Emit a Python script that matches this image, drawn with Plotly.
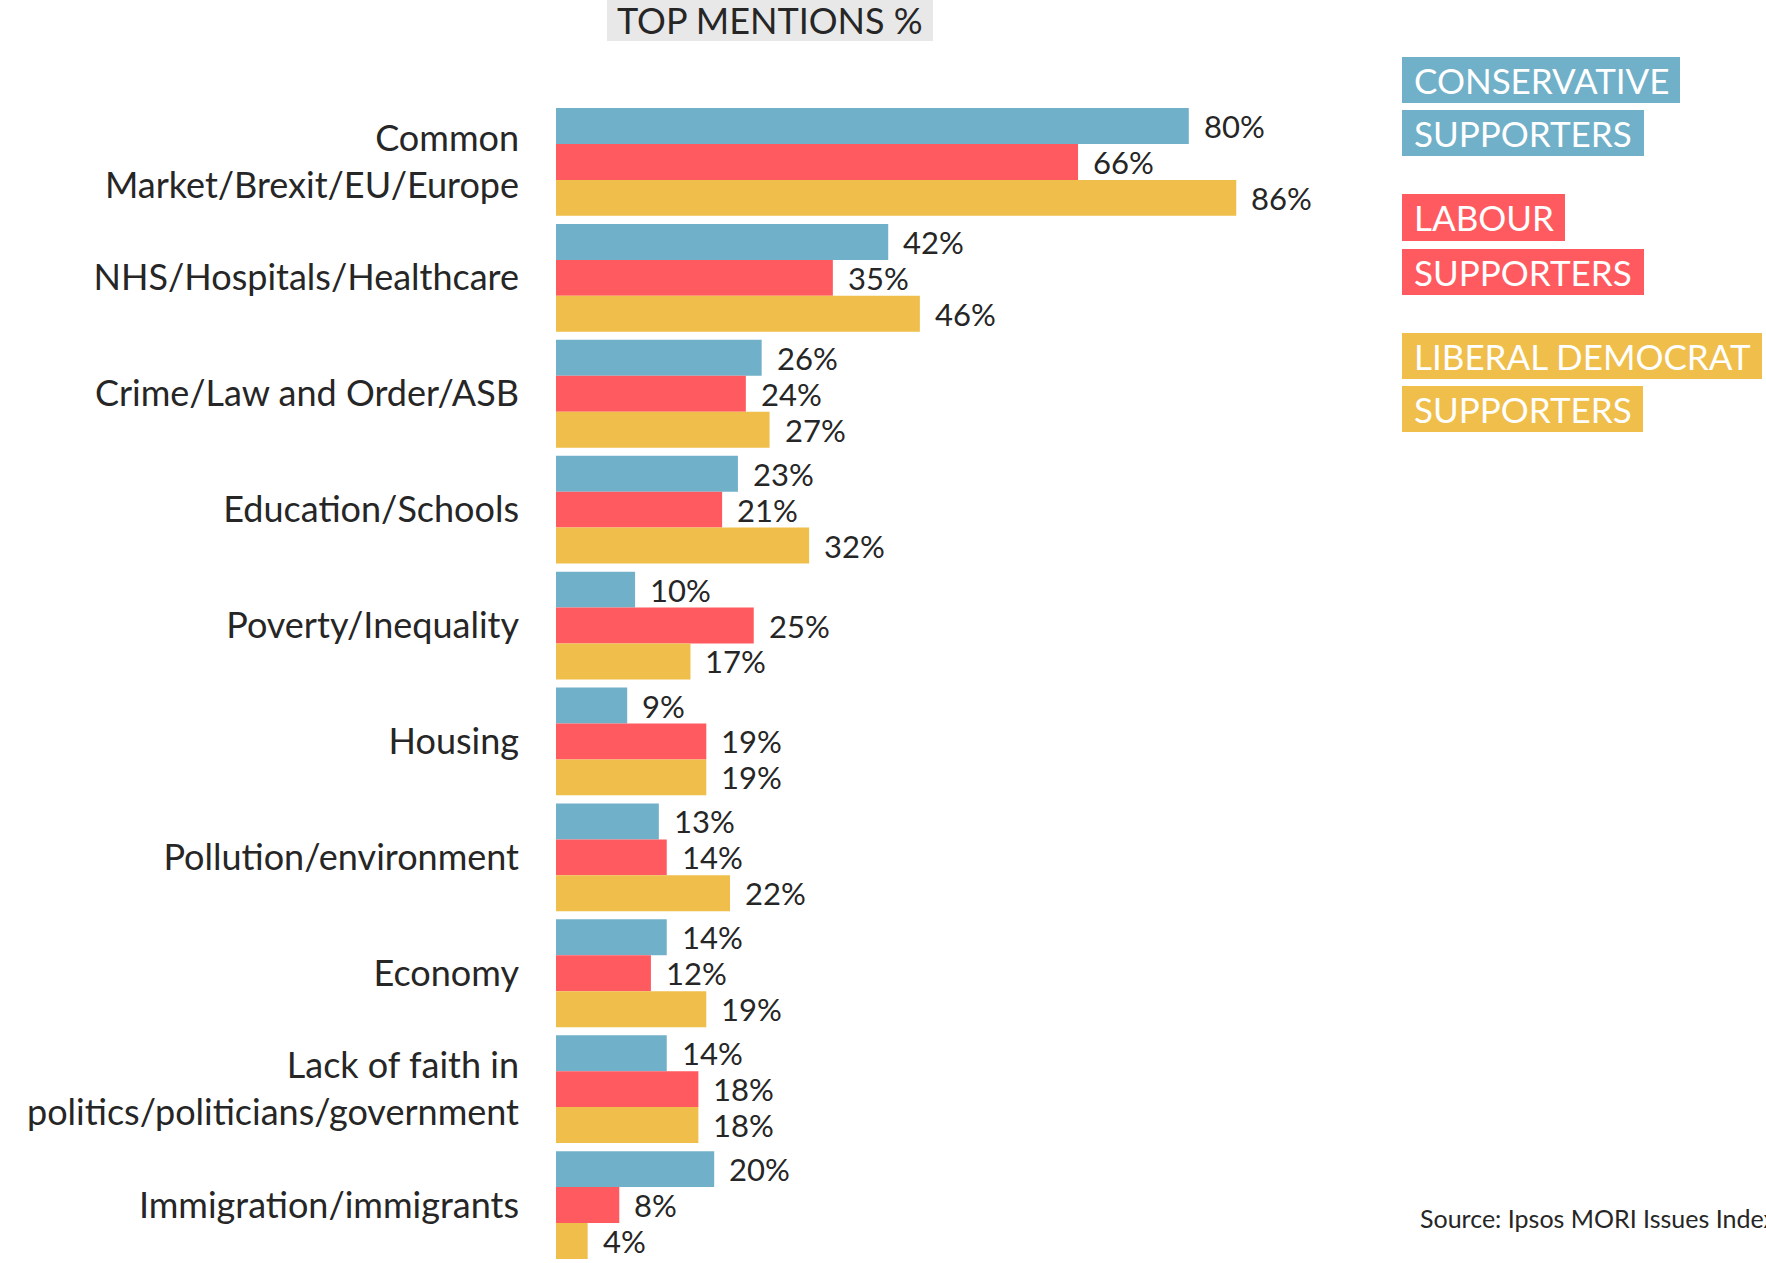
import plotly.graph_objects as go

categories = [
    "Common<br>Market/Brexit/EU/Europe",
    "NHS/Hospitals/Healthcare",
    "Crime/Law and Order/ASB",
    "Education/Schools",
    "Poverty/Inequality",
    "Housing",
    "Pollution/environment",
    "Economy",
    "Lack of faith in<br>politics/politicians/government",
    "Immigration/immigrants",
]
conservative = [80, 42, 26, 23, 10, 9, 13, 14, 14, 20]
labour = [66, 35, 24, 21, 25, 19, 14, 12, 18, 8]
libdem = [86, 46, 27, 32, 17, 19, 22, 19, 18, 4]

series_names = ["Conservative supporters", "Labour supporters", "Liberal Democrat supporters"]
series_values = [conservative, labour, libdem]
series_colors = ["#70B0C8", "#FF5A5F", "#F0BE4A"]
legend_lines = [["CONSERVATIVE", "SUPPORTERS"], ["LABOUR", "SUPPORTERS"], ["LIBERAL DEMOCRAT", "SUPPORTERS"]]

title_text = "TOP MENTIONS %"
source_text = "Source: Ipsos MORI Issues Index"

FONT = "Lato"
TXT = "#262626"
W, H = 1766, 1263
PL, PR, PT, PB = 556, 1347, 104, 1263
BARGAP = 0.07


def px(x):
    return (x - PL) / (PR - PL)


def py(y):
    return (PB - y) / (PB - PT)


idx = list(range(len(categories)))
fig = go.Figure()
for name, vals, col in zip(series_names, series_values, series_colors):
    fig.add_trace(go.Bar(
        y=idx, x=vals, orientation="h", name=name,
        marker=dict(color=col, line=dict(width=0)),
        hoverinfo="x+name",
    ))

annotations = []
ns = len(series_values)
bw = (1 - BARGAP) / ns
for k, vals in enumerate(series_values):
    off = (k - (ns - 1) / 2) * bw
    for i, v in enumerate(vals):
        annotations.append(dict(
            x=v, y=i + off, xref="x", yref="y", text=f"{v}%",
            showarrow=False, xanchor="left", yanchor="middle", xshift=13,
            font=dict(family=FONT, size=31, color=TXT),
        ))

shapes = []
# title box
shapes.append(dict(type="rect", xref="paper", yref="paper",
                   x0=px(607), x1=px(933), y0=py(41), y1=py(-5),
                   fillcolor="#E8E8E8", line=dict(width=0), layer="below"))
annotations.append(dict(x=px(770), y=py(20), xref="paper", yref="paper",
                        text=title_text, showarrow=False, xanchor="center", yanchor="middle",
                        font=dict(family=FONT, size=36, color=TXT)))

# legend boxes
box_specs = [
    [(57, 103, 1680), (110, 156, 1644)],
    [(194, 241, 1565), (249, 295, 1644)],
    [(333, 379, 1762), (386, 432, 1643)],
]
for lines, col, boxes in zip(legend_lines, series_colors, box_specs):
    for text, (y0, y1, x1) in zip(lines, boxes):
        shapes.append(dict(type="rect", xref="paper", yref="paper",
                           x0=px(1402), x1=px(x1), y0=py(y1), y1=py(y0),
                           fillcolor=col, line=dict(width=0)))
        annotations.append(dict(x=px(1412), y=py((y0 + y1) / 2), xref="paper", yref="paper",
                                text=text, showarrow=False, xanchor="left", yanchor="middle",
                                font=dict(family=FONT, size=35, color="white")))

annotations.append(dict(x=px(1418), y=py(1218), xref="paper", yref="paper",
                        text=source_text, showarrow=False, xanchor="left", yanchor="middle",
                        font=dict(family=FONT, size=25, color=TXT)))

fig.update_layout(
    width=W, height=H,
    margin=dict(l=PL, r=W - PR, t=PT, b=H - PB, pad=0),
    paper_bgcolor="white", plot_bgcolor="white",
    barmode="group", bargap=BARGAP, bargroupgap=0,
    showlegend=False,
    xaxis=dict(range=[0, 100], showgrid=False, zeroline=False, showticklabels=False,
               showline=False, fixedrange=True),
    yaxis=dict(range=[len(categories) - 0.5, -0.5], tickvals=idx, ticktext=categories,
               showgrid=False, zeroline=False, showline=False, ticks="",
               ticklabelstandoff=36,
               tickfont=dict(family=FONT, size=36, color=TXT)),
    shapes=shapes, annotations=annotations,
)

fig.write_html("out.html",
               config={"displayModeBar": False},
               post_script="document.body.style.margin='0';document.body.style.overflow='hidden';")
